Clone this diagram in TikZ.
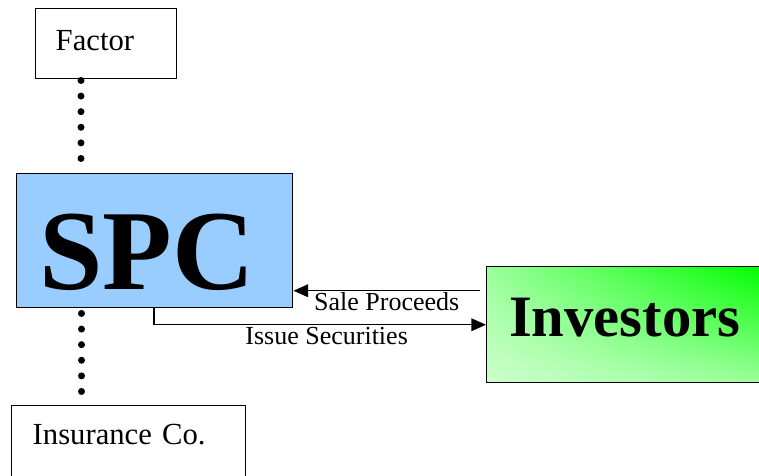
\documentclass[tikz,border=0pt]{standalone}
\usepackage{fontspec}
\setmainfont{Liberation Serif}
\usetikzlibrary{arrows.meta,shadings}

\definecolor{spcblue}{RGB}{153,204,255}
\definecolor{invlight}{RGB}{204,255,204}
\definecolor{invmid}{RGB}{155,255,155}
\definecolor{invdark}{RGB}{0,255,0}

\begin{document}
\begin{tikzpicture}[x=0.75pt,y=-0.75pt,
        box/.style={draw,line width=1.1pt,anchor=north west,inner sep=0pt,align=left},
        dotline/.style={line width=5.25pt,line cap=round,dash pattern=on 0pt off 11.7pt},
        flow/.style={line width=1.1pt,-{Triangle[length=11pt,width=9.5pt]}},
        flowlabel/.style={inner sep=1pt,font=\fontsize{19.5}{22}\selectfont}]
        % Frame
        \useasboundingbox (0,0) rectangle (759,475);

        % Boxes
        \node[box,minimum width=105.75pt,minimum height=52.5pt,text width=75.75pt,text depth=5pt,
              font=\fontsize{23}{26}\selectfont] (factor) at (35,8) {Factor};
        \node[box,fill=spcblue,minimum width=207pt,minimum height=100.5pt,text width=173pt,text height=74.6pt,
              font=\fontsize{85.5}{90}\selectfont\bfseries] (spc) at (16,173) {SPC};
        \node[box,minimum width=175.5pt,text width=144pt,inner ysep=13.5pt,text depth=45pt,
              font=\fontsize{23}{26}\selectfont] (insurance) at (11,405) {Insurance Co.};
        \node[box,align=center,upper right=invdark,lower left=invlight,upper left=invmid,lower right=invmid,
              minimum width=207pt,minimum height=87pt,text depth=10.5pt,
              font=\fontsize{44}{48}\selectfont\bfseries] (investors) at (486,266) {Investors};

        % Dotted links
        \draw[dotline] (factor.south west) ++(46,1) -- ++(0,79);
        \draw[dotline] (spc.south west) ++(65.5,5) -- ++(0,79);

        % Flows
        \coordinate (salestart) at ([xshift=-4.5pt,yshift=25.5pt]investors.west);
        \draw[flow] (salestart) -- (salestart -| spc.east)
            node[flowlabel,midway,below] {Sale Proceeds};
        \draw[flow] (spc.south west) ++(138,0) |- (investors.west)
            node[flowlabel,pos=0.76,below] {Issue Securities};

\end{tikzpicture}
\end{document}
